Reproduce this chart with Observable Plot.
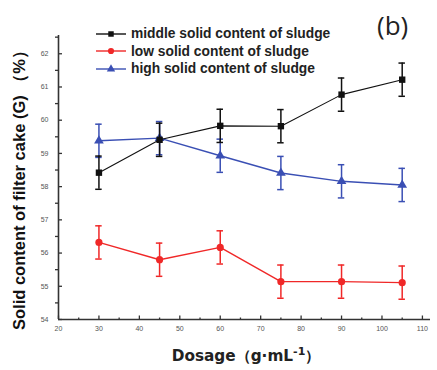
<!DOCTYPE html>
<html><head><meta charset="utf-8">
<script src="https://cdn.jsdelivr.net/npm/d3@7"></script>
<script src="https://cdn.jsdelivr.net/npm/@observablehq/plot@0.6"></script>
<style>
body{margin:0;background:#fff;font-family:"Liberation Sans",Arial,sans-serif;}
#wrap{position:relative;width:437px;height:370px;}
#ylab{position:absolute;left:20px;top:186px;transform:translate(-50%,-50%) rotate(-90deg);white-space:nowrap;font-weight:bold;font-size:16.5px;color:#111;}
#xlab{position:absolute;left:246px;top:356px;transform:translate(-50%,-50%);white-space:nowrap;font-family:"DejaVu Sans",sans-serif;font-weight:bold;font-size:15.3px;color:#222;}
#tag{position:absolute;left:377px;top:7px;font-family:"Open Sans",sans-serif;font-size:26px;color:#222;}
#legend{position:absolute;left:96px;top:25px;font-weight:bold;font-size:13.8px;color:#222;}
#legend .row{display:flex;align-items:center;height:17.5px;}
#legend svg{margin-right:5px;}
</style></head>
<body><div id="wrap"><div id="chart"></div>
<div id="ylab">Solid content of filter cake (G) （%）</div>
<div id="xlab">Dosage（g·mL<sup style="font-size:11px">-1</sup>）</div>
<div id="tag">(b)</div>
<div id="legend"></div>
</div>
<script>
const dosage = [30, 45, 60, 75, 90, 105];
const middle = [58.42, 59.41, 59.83, 59.82, 60.77, 61.22];
const low = [56.32, 55.80, 56.17, 55.14, 55.14, 55.11];
const high = [59.38, 59.46, 58.93, 58.41, 58.16, 58.05];
const errMiddle = [0.5, 0.5, 0.5, 0.5, 0.5, 0.5];
const errLow = [0.5, 0.5, 0.5, 0.5, 0.5, 0.5];
const errHigh = [0.5, 0.5, 0.5, 0.5, 0.5, 0.5];
const seriesNames = ["middle solid content of sludge", "low solid content of sludge", "high solid content of sludge"];
const colors = ["#111111", "#f02828", "#3a4fb4"];
const symbols = ["square", "circle", "triangle"];
const xTicks = [20, 30, 40, 50, 60, 70, 80, 90, 100, 110];
const yTicks = [54, 55, 56, 57, 58, 59, 60, 61, 62];

const vals = [middle, low, high];
const errs = [errMiddle, errLow, errHigh];
const rows = [];
vals.forEach((arr, s) => arr.forEach((v, i) => rows.push({s, name: seriesNames[s], x: dosage[i], y: v, e: errs[s][i]})));
const xMinor = xTicks.slice(0, -1).map(t => t + 5);
const yMinor = yTicks.map(t => t + 0.5).filter(t => t < 62.55);

const marks = [];
[2, 0, 1].forEach(s => {
  const d = rows.filter(r => r.s === s);
  marks.push(Plot.line(d, {x: "x", y: "y", stroke: colors[s], strokeWidth: s === 0 ? 1.1 : 1.4}));
  marks.push(Plot.ruleX(d, {x: "x", y1: r => r.y - r.e, y2: r => r.y + r.e, stroke: colors[s], strokeWidth: 1.5}));
  marks.push(Plot.ruleY(d, {y: r => r.y + r.e, x1: r => r.x - 0.8, x2: r => r.x + 0.8, stroke: colors[s], strokeWidth: 1.5}));
  marks.push(Plot.ruleY(d, {y: r => r.y - r.e, x1: r => r.x - 0.8, x2: r => r.x + 0.8, stroke: colors[s], strokeWidth: 1.5}));
  marks.push(Plot.dot(d, {x: "x", y: "y", symbol: () => symbols[s], fill: colors[s], stroke: "none", r: 3.6}));
});

const chart = Plot.plot({
  width: 437, height: 370,
  marginLeft: 58, marginRight: 7, marginTop: 35, marginBottom: 51,
  x: {domain: [20, 112]},
  y: {domain: [54, 62.55]},
  style: {fontFamily: "'Liberation Sans', Arial, sans-serif", background: "#fff"},
  marks: [
    ...marks,
    Plot.axisX(xTicks, {tickSize: -3.5, tickPadding: 0, text: null, stroke: "#333", strokeWidth: 1.3, label: null}),
    Plot.axisX(xMinor, {tickSize: -1.5, text: null, stroke: "#333", strokeWidth: 1.3, label: null}),
    Plot.axisX(xTicks, {tickSize: 0, tickPadding: 7, fill: "#555", fontSize: 7, label: null}),
    Plot.axisY(yTicks, {tickSize: -4, text: null, stroke: "#333", strokeWidth: 1.3, label: null}),
    Plot.axisY(yMinor, {tickSize: 3, text: null, stroke: "#333", strokeWidth: 1.3, label: null}),
    Plot.axisY(yTicks, {tickSize: 0, tickPadding: 10, fill: "#555", fontSize: 7, label: null}),
    Plot.ruleY([54], {stroke: "#333", strokeWidth: 1.6}),
    Plot.ruleX([20], {stroke: "#333", strokeWidth: 1.6})
  ]
});
document.getElementById("chart").appendChild(chart);

const leg = d3.select("#legend");
seriesNames.forEach((n, s) => {
  const row = leg.append("div").attr("class", "row");
  const svg = row.append("svg").attr("width", 30).attr("height", 10);
  svg.append("line").attr("x1", 0).attr("x2", 30).attr("y1", 5).attr("y2", 5).attr("stroke", colors[s]).attr("stroke-width", 1.4);
  svg.append("path").attr("transform", "translate(15,5)").attr("d", d3.symbol(s === 0 ? d3.symbolSquare : s === 1 ? d3.symbolCircle : d3.symbolTriangle, 30)()).attr("fill", colors[s]);
  row.append("span").text(n);
});
</script>
</body></html>
